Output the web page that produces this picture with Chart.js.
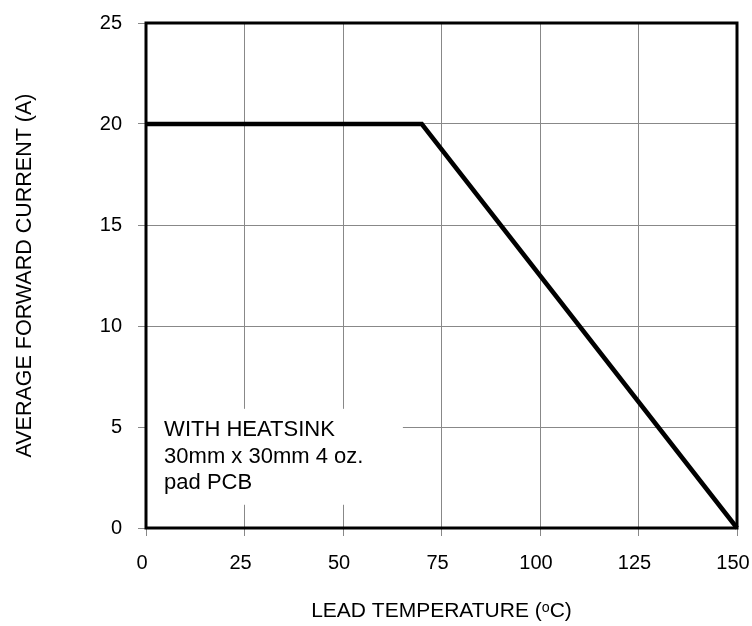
<!DOCTYPE html>
<html>
<head>
<meta charset="utf-8">
<script src="https://cdn.jsdelivr.net/npm/chart.js@4"></script>
<style>
  body { margin: 0; background: #fff; }
  #wrap { width: 752px; height: 626px; }
</style>
</head>
<body>
<div id="wrap"><canvas id="derating" width="752" height="626"></canvas></div>
<script>
// derating curve: lead temperature vs average forward current
const leadTemp = [0, 70, 150];
const fwdCurrent = [20, 20, 0];

const xTickValues = [0, 25, 50, 75, 100, 125, 150];
const yTickValues = [0, 5, 10, 15, 20, 25];

const noteLines = ['WITH HEATSINK', '30mm x 30mm 4 oz.', 'pad PCB'];

const FONT = 'Liberation Sans, Arial, Helvetica, sans-serif';

// white box behind the note, covers the grid lines
const notePlugin = {
  id: 'note',
  beforeDatasetsDraw(chart) {
    const { ctx, scales: { x, y } } = chart;
    const left = x.getPixelForValue(0) + 1;
    const right = x.getPixelForValue(65.2);
    const top = y.getPixelForValue(5.9);
    const bottom = y.getPixelForValue(1.15);
    ctx.save();
    ctx.fillStyle = '#fff';
    ctx.fillRect(left, top, right - left, bottom - top);
    ctx.fillStyle = '#000';
    ctx.font = '22px ' + FONT;
    ctx.textBaseline = 'alphabetic';
    const tx = x.getPixelForValue(4.6);
    noteLines.forEach((line, i) => {
      ctx.fillText(line, tx, top + 27.5 + i * 26.5);
    });
    ctx.restore();
  },
  afterDatasetsDraw(chart) {
    const { ctx, chartArea: a } = chart;
    ctx.save();
    ctx.strokeStyle = '#000';
    ctx.lineWidth = 3;
    ctx.strokeRect(a.left, a.top, a.right - a.left, a.bottom - a.top);
    ctx.restore();
  }
};

const ctx = document.getElementById('derating').getContext('2d');

new Chart(ctx, {
  type: 'scatter',
  data: {
    datasets: [{
      data: leadTemp.map((t, i) => ({ x: t, y: fwdCurrent[i] })),
      showLine: true,
      borderColor: '#000',
      borderWidth: 4.5,
      pointRadius: 0,
      fill: false,
      clip: 6
    }]
  },
  options: {
    responsive: false,
    animation: false,
    layout: { padding: { top: 23, right: 15, left: 0, bottom: 0 } },
    plugins: {
      legend: { display: false },
      tooltip: { enabled: false }
    },
    scales: {
      x: {
        type: 'linear',
        min: 0,
        max: 150,
        afterBuildTicks(scale) {
          scale.ticks = xTickValues.map(v => ({ value: v }));
        },
        afterFit(scale) {
          scale.height = 98;
          scale.paddingLeft = 0;
          scale.paddingRight = 0;
        },
        grid: { color: '#888', lineWidth: 1, tickLength: 8, tickColor: '#888' },
        border: { display: false },
        ticks: { color: '#000', padding: 15, labelOffset: -4, font: { family: FONT, size: 20 } },
        title: {
          display: true,
          text: 'LEAD TEMPERATURE (ᵒC)',
          color: '#000',
          font: { family: FONT, size: 21 },
          padding: { top: 0, bottom: 2 }
        }
      },
      y: {
        type: 'linear',
        min: 0,
        max: 25,
        afterBuildTicks(scale) {
          scale.ticks = yTickValues.map(v => ({ value: v }));
        },
        afterFit(scale) {
          scale.width = 146;
          scale.paddingTop = 0;
          scale.paddingBottom = 0;
        },
        grid: { color: '#888', lineWidth: 1, tickLength: 8, tickColor: '#888' },
        border: { display: false },
        ticks: { color: '#000', padding: 16, font: { family: FONT, size: 20 } },
        title: {
          display: true,
          text: 'AVERAGE FORWARD CURRENT (A)',
          color: '#000',
          font: { family: FONT, size: 21.5 },
          padding: { top: 12, bottom: 0 }
        }
      }
    }
  },
  plugins: [notePlugin]
});
</script>
</body>
</html>
